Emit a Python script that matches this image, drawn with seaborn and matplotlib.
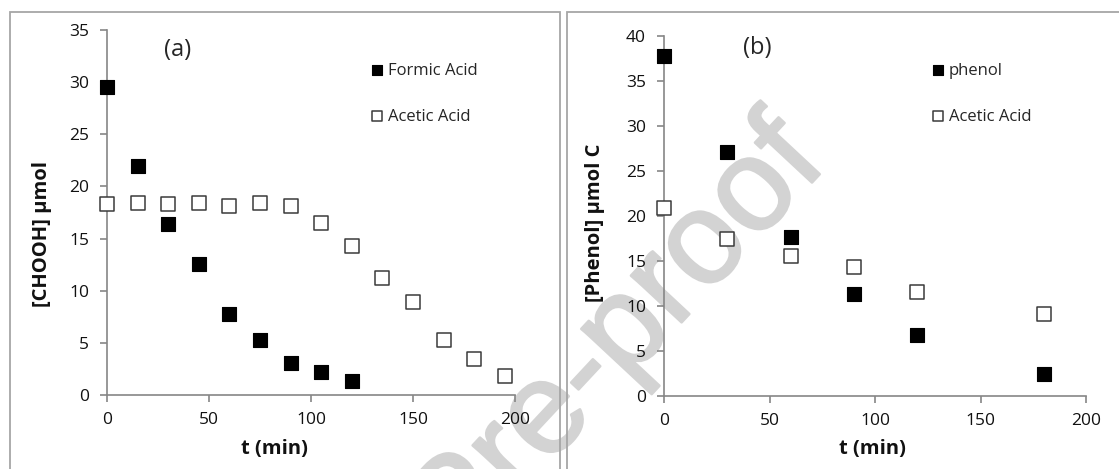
import matplotlib
matplotlib.use("Agg")
import matplotlib.pyplot as plt
import matplotlib.patheffects as pe
import seaborn as sns
import pandas as pd
from matplotlib.patches import Rectangle

# ---- data ----
t_formic = [0, 15, 30, 45, 60, 75, 90, 105, 120]
formic = [29.5, 22.0, 16.4, 12.6, 7.8, 5.3, 3.1, 2.2, 1.3]
t_acetic_a = [0, 15, 30, 45, 60, 75, 90, 105, 120, 135, 150, 165, 180, 195]
acetic_a = [18.3, 18.4, 18.3, 18.4, 18.1, 18.4, 18.1, 16.5, 14.3, 11.2, 8.9, 5.3, 3.5, 1.8]

t_b = [0, 30, 60, 90, 120, 180]
phenol = [37.8, 27.1, 17.7, 11.3, 6.8, 2.4]
acetic_b = [20.9, 17.5, 15.6, 14.3, 11.6, 9.1]

x_ticks = [0, 50, 100, 150, 200]
y_ticks_a = [0, 5, 10, 15, 20, 25, 30, 35]
y_ticks_b = [0, 5, 10, 15, 20, 25, 30, 35, 40]

sns.set_style("ticks")
plt.rcParams["font.family"] = ["Open Sans", "DejaVu Sans"]

W, H = 1119, 469
fig = plt.figure(figsize=(W / 100, H / 100), dpi=100)
fig.patch.set_facecolor("white")

def px_axes(l, r, t, b):
    return [l / W, 1 - b / H, (r - l) / W, (b - t) / H]

ax_a = fig.add_axes(px_axes(107, 515, 30, 395))
ax_b = fig.add_axes(px_axes(664, 1086, 36, 396))

# panel frames
fig.patches.append(Rectangle((10 / W, -0.05), (560 - 10) / W, 1 - 12 / H + 0.05,
                             transform=fig.transFigure, fill=False,
                             edgecolor="#a6a6a6", linewidth=1.3, zorder=0))
fig.patches.append(Rectangle((567 / W, -0.05), 0.6, 1 - 12 / H + 0.05,
                             transform=fig.transFigure, fill=False,
                             edgecolor="#a6a6a6", linewidth=1.3, zorder=0))

# watermark
wm_col = "#d3d3d3"
fig.text(618 / W, 1 - 340 / H, "Pre-proof", rotation=47, ha="center", va="center",
         fontsize=94, color=wm_col,
         family=["Liberation Sans Narrow", "Liberation Sans"], zorder=-1,
         path_effects=[pe.withStroke(linewidth=1.8, foreground=wm_col)])

MS = 95
filled = dict(marker="s", s=MS, color="black", edgecolor="black", linewidth=0.8, clip_on=False, zorder=3)
opened = dict(marker="s", s=MS, facecolor="white", edgecolor="#3a3a3a", linewidth=1.1, clip_on=False, zorder=3)

df_fa = pd.DataFrame({"t": t_formic, "v": formic})
df_aa = pd.DataFrame({"t": t_acetic_a, "v": acetic_a})
df_ph = pd.DataFrame({"t": t_b, "v": phenol})
df_ab = pd.DataFrame({"t": t_b, "v": acetic_b})

sns.scatterplot(data=df_fa, x="t", y="v", ax=ax_a, label="Formic Acid", **filled)
sns.scatterplot(data=df_aa, x="t", y="v", ax=ax_a, label="Acetic Acid", **opened)
sns.scatterplot(data=df_ph, x="t", y="v", ax=ax_b, label="phenol", **filled)
sns.scatterplot(data=df_ab, x="t", y="v", ax=ax_b, label="Acetic Acid", **opened)

axis_col = "#868686"
for ax, yt, ymax in [(ax_a, y_ticks_a, 35), (ax_b, y_ticks_b, 40)]:
    ax.set_facecolor("none")
    ax.set_xlim(0, 200)
    ax.set_ylim(0, ymax)
    ax.set_xticks(x_ticks)
    ax.set_yticks(yt)
    sns.despine(ax=ax)
    for s in ["left", "bottom"]:
        ax.spines[s].set_color(axis_col)
        ax.spines[s].set_linewidth(1.2)
    ax.tick_params(axis="both", direction="out", length=5, width=1.2, color=axis_col,
                   labelsize=12.5, labelcolor="#111111")
    ax.tick_params(axis="y", pad=8)
    ax.tick_params(axis="x", pad=7)
    ax.set_xlabel("t (min)", fontsize=14.5, fontweight="bold", color="#111111")

ax_a.set_ylabel("[CHOOH] \u00b5mol", fontsize=14.5, fontweight="bold", color="#111111")
ax_b.set_ylabel("[Phenol] \u00b5mol C", fontsize=14.5, fontweight="bold", color="#111111")

ax_a.xaxis.set_label_coords(0.41, -0.12)
ax_b.xaxis.set_label_coords(0.495, -0.12)
ax_a.yaxis.set_label_coords(-0.135, 0.44)
ax_b.yaxis.set_label_coords(-0.14, 0.48)

ax_a.text(0.174, 0.945, "(a)", transform=ax_a.transAxes, ha="center", va="center", fontsize=17)
ax_b.text(0.22, 0.967, "(b)", transform=ax_b.transAxes, ha="center", va="center", fontsize=17)

leg_kw = dict(loc="center left", frameon=False, fontsize=12, borderpad=0,
              handlelength=0.6, handletextpad=0.35, labelspacing=1.8, markerscale=0.7,
              borderaxespad=0)
ax_a.legend(bbox_to_anchor=(0.65, 0.826), **leg_kw)
ax_b.legend(bbox_to_anchor=(0.637, 0.840), **leg_kw)

fig.savefig("out.png", dpi=100)
